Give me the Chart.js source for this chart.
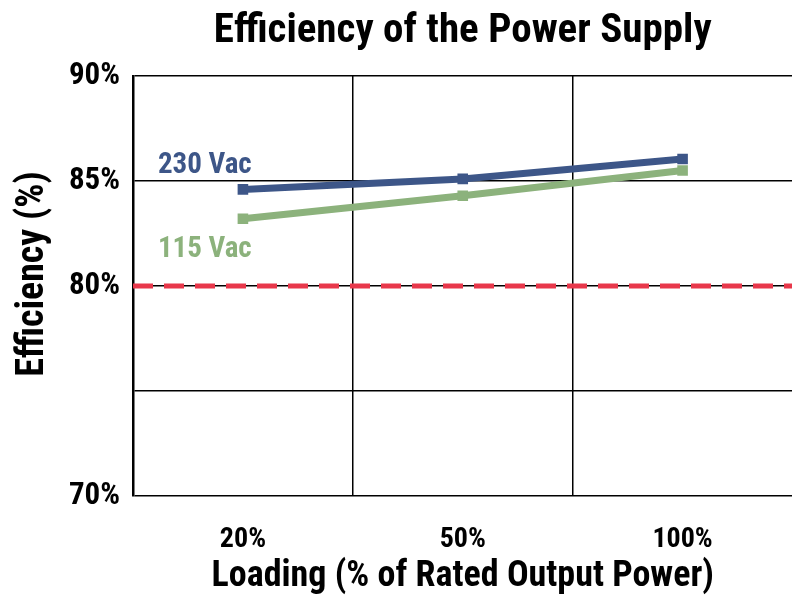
<!DOCTYPE html>
<html lang="en">
<head>
    <meta charset="UTF-8">
    <title>Efficiency of the Power Supply</title>
    <script src="https://cdn.jsdelivr.net/npm/chart.js"></script>
    <style>
        html, body { margin: 0; padding: 0; background: #fff; overflow: hidden; }
        .wrap { width: 792px; height: 599px; overflow: hidden; }
    </style>
</head>
<body>
    <div class="wrap">
        <canvas id="effChart" width="800" height="599"></canvas>
    </div>

    <script>
        // chart data
        const loadLabels = ["20%", "50%", "100%"];
        const seriesNames = ["230 Vac", "115 Vac"];
        const eff230 = [84.6, 85.1, 86.05];
        const eff115 = [83.2, 84.3, 85.5];
        const yTickValues = [70, 80, 85, 90];
        const threshold = 80;

        const FONT = "'Roboto Condensed', 'Roboto', sans-serif";
        const BLUE = "#3d5688";
        const GREEN = "#8cb27c";

        // title centred over the plot, y title, dashed 80% line and series labels
        const extras = {
            id: "extras",
            afterDatasetsDraw(chart) {
                const ctx = chart.ctx;
                const area = chart.chartArea;
                const y = chart.scales.y;

                ctx.save();
                ctx.strokeStyle = "#e8384b";
                ctx.lineWidth = 5;
                ctx.setLineDash([20, 11]);
                const ty = y.getPixelForValue(threshold);
                ctx.beginPath();
                ctx.moveTo(area.left, ty);
                ctx.lineTo(chart.width, ty);
                ctx.stroke();
                ctx.restore();

                ctx.save();
                ctx.font = "bold 29px " + FONT;
                ctx.textBaseline = "alphabetic";
                ctx.textAlign = "left";
                const p0 = chart.getDatasetMeta(0).data[0];
                const p1 = chart.getDatasetMeta(1).data[0];
                ctx.fillStyle = BLUE;
                ctx.fillText(seriesNames[0], p0.x - 85, p0.y - 16);
                ctx.fillStyle = GREEN;
                ctx.fillText(seriesNames[1], p1.x - 85, p1.y + 38);

                ctx.fillStyle = "#000";
                ctx.textAlign = "center";
                ctx.font = "bold 41px " + FONT;
                ctx.fillText("Efficiency of the Power Supply", (area.left + area.right) / 2, 42);

                ctx.translate(43, (area.top + area.bottom) / 2 - 12);
                ctx.rotate(-Math.PI / 2);
                ctx.font = "bold 38px " + FONT;
                ctx.fillText("Efficiency (%)", 0, 0);
                ctx.restore();
            }
        };

        new Chart(document.getElementById("effChart"), {
            type: "line",
            data: {
                labels: loadLabels,
                datasets: [
                    {
                        label: seriesNames[0],
                        data: eff230,
                        borderColor: BLUE,
                        backgroundColor: BLUE,
                        borderWidth: 7,
                        pointStyle: "rect",
                        pointRadius: 7.5,
                        pointBorderWidth: 0,
                        tension: 0
                    },
                    {
                        label: seriesNames[1],
                        data: eff115,
                        borderColor: GREEN,
                        backgroundColor: GREEN,
                        borderWidth: 7,
                        pointStyle: "rect",
                        pointRadius: 7.5,
                        pointBorderWidth: 0,
                        tension: 0
                    }
                ]
            },
            options: {
                responsive: false,
                animation: false,
                layout: { padding: { top: 76, right: 3, left: 0, bottom: 0 } },
                plugins: {
                    legend: { display: false },
                    title: { display: false },
                    tooltip: { enabled: false }
                },
                scales: {
                    x: {
                        offset: true,
                        grid: { color: "#000", lineWidth: 1.5, offset: true, drawTicks: false },
                        border: { display: false },
                        ticks: {
                            color: "#000",
                            padding: 27,
                            font: { family: FONT, size: 28, weight: "bold" }
                        },
                        title: {
                            display: true,
                            text: "Loading (% of Rated Output Power)",
                            color: "#000",
                            padding: { top: 10, bottom: 0 },
                            font: { family: FONT, size: 36, weight: "bold" }
                        },
                        afterFit(scale) { scale.height = 103; }
                    },
                    y: {
                        min: 70,
                        max: 90,
                        ticks: {
                            stepSize: 5,
                            color: "#000",
                            padding: 13,
                            font: { family: FONT, size: 31, weight: "bold" },
                            callback: v => yTickValues.includes(v) ? v + "%" : ""
                        },
                        grid: { color: "#000", lineWidth: 1.5, drawTicks: false },
                        border: { color: "#000", width: 2.5 },
                        afterFit(scale) { scale.width = 133; }
                    }
                }
            },
            plugins: [extras]
        });
    </script>
</body>
</html>
